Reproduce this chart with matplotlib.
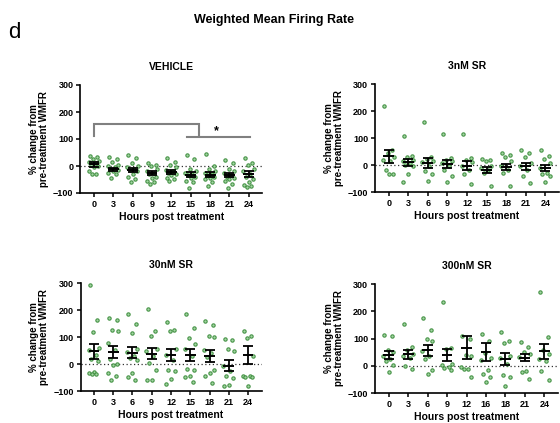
import matplotlib
matplotlib.use("Agg")
import matplotlib.pyplot as plt
import numpy as np

plt.rcParams['font.family'] = ['Liberation Sans', 'DejaVu Sans']

hours = ["0", "3", "6", "9", "12", "15", "18", "21", "24"]
hours_300 = ["0", "3", "6", "9", "12", "16", "18", "21", "24"]

# ---- VEHICLE ----
veh_pts = [
    [38, 32, 25, 18, 15, 10, 5, 0, -5, -20, -30, -28],
    [35, 25, 15, 5, 0, -5, -10, -15, -20, -25, -30, -45],
    [40, 30, 10, 0, -5, -10, -15, -20, -30, -40, -50, -58],
    [12, 5, 0, -10, -20, -25, -30, -40, -45, -55, -60, -65],
    [30, 15, 5, -5, -15, -20, -25, -30, -35, -45, -50, -55],
    [40, 25, -10, -20, -25, -30, -35, -40, -45, -55, -60, -80],
    [45, 0, -10, -20, -25, -30, -35, -40, -45, -50, -60, -75],
    [22, 10, -10, -20, -25, -35, -40, -45, -50, -55, -65, -80],
    [28, 10, 5, -10, -20, -30, -40, -50, -60, -70, -75, -78],
]
veh_mean = [6, -12, -15, -25, -22, -32, -32, -33, -30]
veh_sem = [9, 6, 7, 8, 7, 8, 9, 8, 10]

# ---- 3nM SR ----
sr3_pts = [
    [217, 56, 46, 29, 20, 13, -17, -32, -35],
    [108, 34, 29, 20, 13, 7, 1, -5, -32, -63],
    [160, 29, 22, 13, 10, -5, -23, -35, -59],
    [113, 26, 20, 13, 7, -5, -17, -39, -62],
    [113, 26, 20, 10, -5, -17, -32, -70],
    [22, 17, 13, -2, -11, -17, -29, -76],
    [46, 38, 29, 13, -5, -17, -29, -78],
    [54, 46, 29, 7, -5, -17, -41, -66],
    [54, 32, 22, 7, -11, -29, -35, -41, -63],
]
sr3_mean = [32, 10, 8, 3, -3, -18, -8, -5, -12]
sr3_sem = [24, 12, 18, 14, 16, 10, 12, 13, 11]

# ---- 30nM SR ----
sr30_pts = [
    [294, 164, 117, 59, 53, 35, 19, 10, -31, -33, -36, -37],
    [170, 162, 127, 121, 78, 53, 19, 1, -2, -33, -46, -58],
    [186, 149, 115, 56, 43, 31, 22, 14, -33, -48, -58],
    [204, 121, 102, 56, 47, 31, 4, -21, -60, -60],
    [156, 127, 121, 56, 35, 16, -21, -27, -56, -73],
    [185, 133, 96, 75, 56, 31, -19, -23, -46, -48, -68],
    [158, 146, 102, 99, 53, 41, 26, -21, -33, -46, -70],
    [93, 90, 56, 47, -9, -27, -46, -52, -77, -83],
    [123, 102, 96, 31, -43, -46, -48, -48, -83],
]
sr30_mean = [47, 46, 42, 38, 32, 32, 30, -6, 33]
sr30_sem = [27, 22, 20, 21, 22, 22, 22, 20, 34]

# ---- 300nM SR ----
sr300_pts = [
    [112, 110, 58, 49, 37, 25, 17, 1, -23],
    [154, 67, 58, 43, 37, 29, -2, -13],
    [176, 130, 98, 92, 55, 37, 25, -17, -31],
    [234, 65, 60, 5, 1, -5, -7, -17],
    [110, 100, 41, 34, -5, -11, -13, -41],
    [116, 92, 46, 29, 22, -14, -31, -41, -61],
    [124, 89, 82, 37, 29, 7, -35, -41, -75],
    [88, 70, 49, 43, 31, -20, -23, -47],
    [270, 107, 58, 43, 25, 17, -20, -51],
]
sr300_mean = [40, 42, 57, 40, 66, 51, 23, 30, 53]
sr300_sem = [14, 16, 20, 22, 42, 33, 22, 12, 28]

panels = [
    ("VEHICLE", veh_pts, veh_mean, veh_sem, hours, [80.4, 193, 182, 108]),
    ("3nM SR", sr3_pts, sr3_mean, sr3_sem, hours, [375, 192, 184, 108]),
    ("30nM SR", sr30_pts, sr30_mean, sr30_sem, hours, [80.5, 391, 181, 108]),
    ("300nM SR", sr300_pts, sr300_mean, sr300_sem, hours_300, [375, 393, 183, 109]),
]

W, H = 560, 423
fig = plt.figure(figsize=(W / 100, H / 100), dpi=100)

jit = [-0.22, 0.18, -0.05, 0.25, -0.28, 0.08, -0.15, 0.22, 0.0, -0.25, 0.12, -0.1]
edge_c = "#3f8f3f"
face_c = "#9fd49f"

for title, pts, means, sems, labels, (lx, by, w, h) in panels:
    ax = fig.add_axes([lx / W, (H - by) / H, w / W, h / H])
    for i, grp in enumerate(pts):
        xs = [i + jit[k % len(jit)] for k in range(len(grp))]
        ax.plot(xs, grp, 'o', ms=2.4, mfc=face_c, mec=edge_c, mew=0.8,
                zorder=2, alpha=0.95)
    x = np.arange(len(means))
    ax.errorbar(x, means, yerr=sems, fmt='none', ecolor='black',
                elinewidth=1.3, capsize=3.5, capthick=1.3, zorder=3)
    ax.hlines(means, x - 0.28, x + 0.28, color='black', lw=1.4, zorder=3)
    ax.axhline(0, color='#333333', lw=0.9, ls=(0, (1, 2)), zorder=1)
    ax.set_xlim(-0.7, 8.7)
    ax.set_ylim(-100, 300)
    ax.set_yticks([-100, 0, 100, 200, 300])
    ax.set_xticks(x)
    ax.set_xticklabels(labels)
    for s in ['top', 'right']:
        ax.spines[s].set_visible(False)
    for s in ['left', 'bottom']:
        ax.spines[s].set_linewidth(1.2)
    ax.tick_params(axis='both', length=3, width=1.1, labelsize=6.5, pad=2)
    for t in ax.get_xticklabels() + ax.get_yticklabels():
        t.set_fontweight('bold')
    ax.set_title(title, fontsize=7.5, fontweight='bold', pad=11)
    ax.set_ylabel("% change from\npre-treatment WMFR", fontsize=7,
                  fontweight='bold', labelpad=3, linespacing=1.0)
    ax.set_xlabel("Hours post treatment", fontsize=7.5, fontweight='bold',
                  labelpad=2)
    if title == "VEHICLE":
        gray = '#808080'
        ax.plot([0, 0, 5.45, 5.45], [110, 156, 156, 110], color=gray, lw=1.5,
                zorder=1, solid_joinstyle='miter')
        ax.plot([4.8, 8.05], [109, 109], color=gray, lw=1.5, zorder=1)
        ax.text(6.3, 128, "*", ha='center', va='center', fontsize=9,
                fontweight='bold')

fig.text(274 / W, 1 - 20 / H, "Weighted Mean Firing Rate", ha='center',
         va='center', fontsize=9, fontweight='bold')
fig.text(8 / W, 1 - 33 / H, "d", ha='left', va='center', fontsize=16)

fig.savefig("out.png", dpi=100)
